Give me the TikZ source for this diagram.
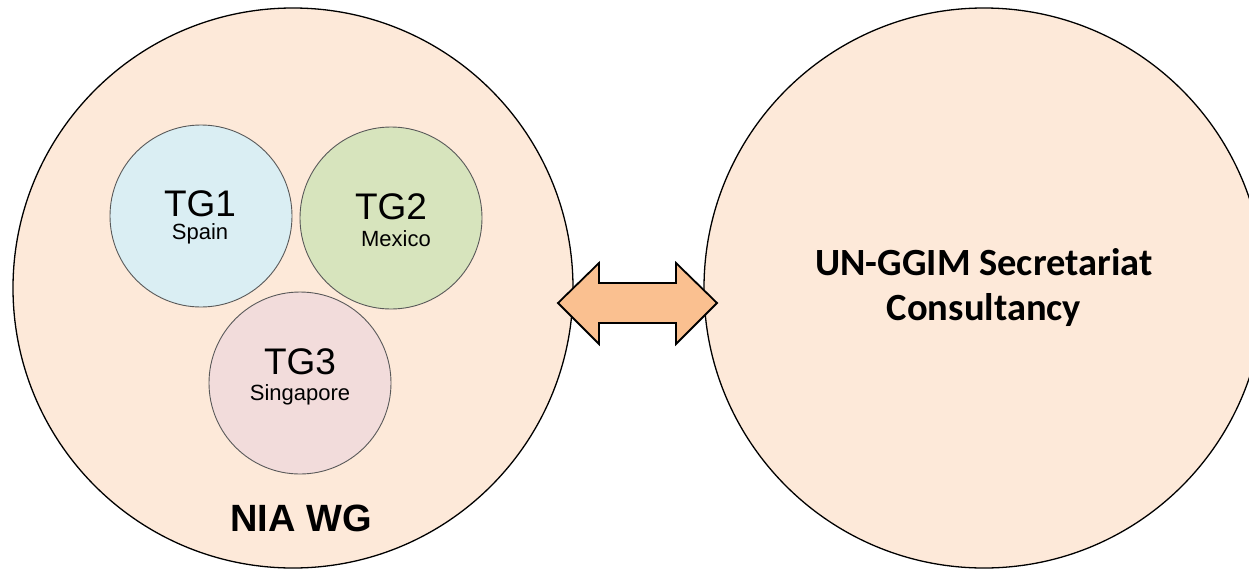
\documentclass[tikz,border=0pt]{standalone}
\usepackage{fontspec}
\setmainfont{Liberation Sans}
\newfontfamily\calibrifont{Carlito}
\usepackage{tikz}

\definecolor{peach}{HTML}{FDE9D9}
\definecolor{arrowfill}{HTML}{FAC090}
\definecolor{tgblue}{HTML}{DAEEF3}
\definecolor{tggreen}{HTML}{D7E4BD}
\definecolor{tgpink}{HTML}{F2DCDB}
\newcommand{\countryfont}{\fontsize{22}{22}\selectfont}

\begin{document}
\begin{tikzpicture}%
        [x=1pt, y=-1pt,
        group/.style={circle, draw=black, line width=1.3pt, fill=peach, minimum size=560pt, inner sep=0pt},
        task/.style={circle, draw=black!65, line width=0.9pt, minimum size=182pt, inner sep=0pt},
        tgtext/.style={align=center, inner sep=0pt, font=\fontsize{37}{23}\selectfont},
        link/.style={draw=black, line width=1.8pt, fill=arrowfill, line join=miter}]

    \useasboundingbox (0,0) rectangle (1249,568);
    \clip (0,0) rectangle (1249,568);

    %% The two groups
    \node[group] (niawg) at (293,288) {};
    \node[group, align=center, font=\calibrifont\bfseries\fontsize{38.5}{45}\selectfont]
        (secretariat) at (984,288) {UN-GGIM Secretariat\\Consultancy};
    %%
    %% Task groups inside NIA WG
    %%
    \node[task, fill=tgblue]  (tg1) at (201,216) {};
    \node[task, fill=tggreen] (tg2) at (391,218) {};
    \node[task, fill=tgpink]  (tg3) at (300,383) {};
    \node[tgtext] (tg1text) at (200,217) {TG1\\{\countryfont Spain}};
    \node[tgtext] (tg2text) at (391,220) {TG2\\[4pt]{\countryfont\hspace*{10pt}Mexico}};
    \node[tgtext] (tg3text) at (300,377) {TG3\\[3pt]{\countryfont Singapore}};
    \node[font=\bfseries\fontsize{38}{38}\selectfont] (nialabel) at (301,518) {NIA WG};
    %%
    %% Two-way arrow between the groups
    %%
    \draw[link] (558,303) -- (599,263) -- (599,283) -- (676,283) -- (676,263) -- (717,303)
        -- (676,344) -- (676,323) -- (599,323) -- (599,344) -- cycle;
    %%
    \end{tikzpicture}
\end{document}
